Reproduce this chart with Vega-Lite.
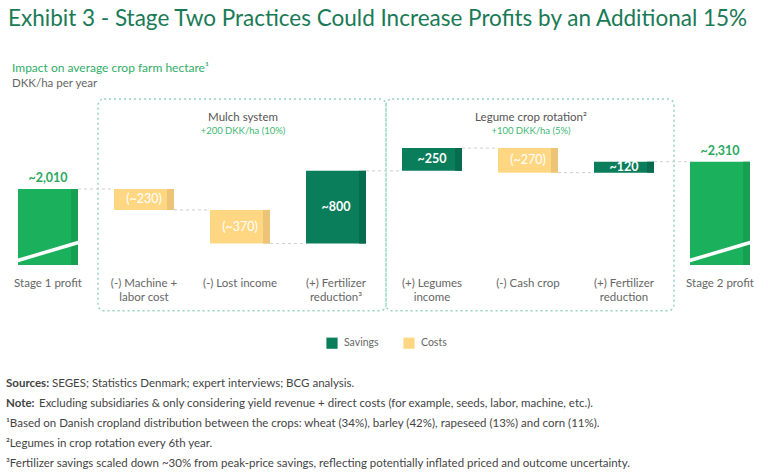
{
  "$schema": "https://vega.github.io/schema/vega-lite/v6.json",
  "background": "white",
  "padding": {"left": 0, "top": 8, "right": 0, "bottom": 0},
  "config": {"view": {"stroke": null}, "font": "Lato", "concat": {"spacing": 62}},
  "title": {
    "text": "Exhibit 3 - Stage Two Practices Could Increase Profits by an Additional 15%",
    "font": "Lato", "fontSize": 22.5, "fontWeight": "normal", "color": "#197A56",
    "anchor": "start", "dx": 8, "offset": 31
  },
  "datasets": {
    "steps": [
      {"step": "Stage 1 profit", "kind": "Total", "start": 0, "end": 2010, "label": "~2,010", "next": "(-) Machine +\nlabor cost"},
      {"step": "(-) Machine +\nlabor cost", "kind": "Costs", "start": 2010, "end": 1780, "label": "(~230)", "next": "(-) Lost income"},
      {"step": "(-) Lost income", "kind": "Costs", "start": 1780, "end": 1410, "label": "(~370)", "next": "(+) Fertilizer\nreduction³"},
      {"step": "(+) Fertilizer\nreduction³", "kind": "Savings", "start": 1410, "end": 2210, "label": "~800", "next": "(+) Legumes\nincome"},
      {"step": "(+) Legumes\nincome", "kind": "Savings", "start": 2210, "end": 2460, "label": "~250", "next": "(-) Cash crop"},
      {"step": "(-) Cash crop", "kind": "Costs", "start": 2460, "end": 2190, "label": "(~270)", "next": "(+) Fertilizer\nreduction"},
      {"step": "(+) Fertilizer\nreduction", "kind": "Savings", "start": 2190, "end": 2310, "label": "~120", "next": "Stage 2 profit"},
      {"step": "Stage 2 profit", "kind": "Total", "start": 0, "end": 2310, "label": "~2,310", "next": null}
    ],
    "groups": [
      {"group": "Mulch system", "sub": "+200 DKK/ha (10%)", "from": "(-) Machine +\nlabor cost", "mid": "(-) Lost income", "to": "(+) Fertilizer\nreduction³"},
      {"group": "Legume crop rotation²", "sub": "+100 DKK/ha (5%)", "from": "(+) Legumes\nincome", "mid": "(-) Cash crop", "to": "(+) Fertilizer\nreduction"}
    ],
    "notes": [
      {"line": 1, "lead": "Sources:", "text": "SEGES; Statistics Denmark; expert interviews; BCG analysis."},
      {"line": 2, "lead": "Note:", "text": "Excluding subsidiaries & only considering yield revenue + direct costs (for example, seeds, labor, machine, etc.)."},
      {"line": 3, "lead": "", "text": "¹Based on Danish cropland distribution between the crops: wheat (34%), barley (42%), rapeseed (13%) and corn (11%)."},
      {"line": 4, "lead": "", "text": "²Legumes in crop rotation every 6th year."},
      {"line": 5, "lead": "", "text": "³Fertilizer savings scaled down ~30% from peak-price savings, reflecting potentially inflated priced and outcome uncertainty."}
    ]
  },
  "vconcat": [
    {
      "width": 768,
      "height": 166,
      "title": {
        "text": "Impact on average crop farm hectare¹", "subtitle": "DKK/ha per year",
        "anchor": "start", "dx": 12, "font": "Lato", "fontSize": 12, "fontWeight": "normal", "color": "#2FAE66",
        "subtitleFont": "Lato", "subtitleFontSize": 11.5, "subtitleColor": "#666666", "subtitlePadding": 3, "offset": 8
      },
      "encoding": {
        "x": {
          "field": "step", "type": "nominal",
          "scale": {
            "domain": ["Stage 1 profit", "(-) Machine +\nlabor cost", "(-) Lost income", "(+) Fertilizer\nreduction³", "(+) Legumes\nincome", "(-) Cash crop", "(+) Fertilizer\nreduction", "Stage 2 profit"],
            "paddingInner": 0.375, "paddingOuter": 0.1875
          },
          "axis": {
            "title": null, "labelAngle": 0, "domain": false, "ticks": false, "labelPadding": 12,
            "labelFontSize": 11.5, "labelColor": "#666666", "labelFont": "Lato", "labelLineHeight": 14,
            "labelExpr": "split(datum.label, '\\n')"
          }
        }
      },
      "layer": [
        {
          "data": {"name": "groups"},
          "mark": {"type": "rect", "fill": null, "stroke": "#93D4BF", "strokeWidth": 1.5, "strokeDash": [2, 3], "cornerRadius": 6, "xOffset": -46, "x2Offset": 50},
          "encoding": {
            "x": {"field": "from", "type": "nominal"},
            "x2": {"field": "to"},
            "y": {"datum": 670, "type": "quantitative", "scale": {"domain": [1174, 3000], "nice": false, "zero": false}, "axis": null},
            "y2": {"datum": 3000}
          }
        },
        {
          "data": {"name": "groups"},
          "mark": {"type": "text", "fontSize": 11.5, "color": "#555555", "dy": 19, "dx": 3, "baseline": "middle"},
          "encoding": {
            "x": {"field": "mid", "type": "nominal"},
            "y": {"datum": 3000, "type": "quantitative"},
            "text": {"field": "group"}
          }
        },
        {
          "data": {"name": "groups"},
          "mark": {"type": "text", "fontSize": 9.5, "color": "#3DB873", "dy": 32, "dx": 3, "baseline": "middle"},
          "encoding": {
            "x": {"field": "mid", "type": "nominal"},
            "y": {"datum": 3000, "type": "quantitative"},
            "text": {"field": "sub"}
          }
        },
        {
          "data": {"name": "steps"},
          "transform": [{"filter": "datum.next != null"}],
          "mark": {"type": "rule", "stroke": "#CFCFCF", "strokeWidth": 1, "strokeDash": [3, 3], "xOffset": 30, "x2Offset": -30},
          "encoding": {
            "x": {"field": "step", "type": "nominal"},
            "x2": {"field": "next"},
            "y": {"field": "end", "type": "quantitative"}
          }
        },
        {
          "data": {"name": "steps"},
          "transform": [{"filter": "datum.kind === 'Total'"}],
          "mark": {"type": "bar", "clip": true, "color": "#1BB05C"},
          "encoding": {
            "y": {"field": "start", "type": "quantitative"},
            "y2": {"field": "end"}
          }
        },
        {
          "data": {"name": "steps"},
          "transform": [{"filter": "datum.kind === 'Total'"}],
          "mark": {"type": "bar", "clip": true, "color": "#17A052", "width": 7, "xOffset": 26.5},
          "encoding": {
            "y": {"field": "start", "type": "quantitative"},
            "y2": {"field": "end"}
          }
        },
        {
          "data": {"name": "steps"},
          "transform": [{"filter": "datum.kind !== 'Total'"}],
          "mark": {"type": "bar"},
          "encoding": {
            "y": {"field": "start", "type": "quantitative"},
            "y2": {"field": "end"},
            "color": {
              "field": "kind", "type": "nominal",
              "scale": {"domain": ["Savings", "Costs"], "range": ["#0A7D5A", "#FFD782"]},
              "legend": {
                "title": null, "orient": "none", "legendX": 326, "legendY": 238, "direction": "horizontal",
                "symbolType": "square", "symbolSize": 125, "symbolStrokeWidth": 0, "labelFontSize": 10.5, "labelColor": "#666666",
                "labelFont": "Lato", "columnPadding": 24, "labelOffset": 6
              }
            }
          }
        },
        {
          "data": {"name": "steps"},
          "transform": [{"filter": "datum.kind !== 'Total'"}],
          "mark": {"type": "bar", "width": 7, "xOffset": 26.5},
          "encoding": {
            "y": {"field": "start", "type": "quantitative"},
            "y2": {"field": "end"},
            "color": {"condition": {"test": "datum.kind === 'Savings'", "value": "#076C4D"}, "value": "#EBC478"}
          }
        },
        {
          "data": {"name": "steps"},
          "transform": [{"filter": "datum.kind === 'Total'"}],
          "mark": {"type": "rule", "stroke": "white", "strokeWidth": 3.5, "xOffset": -32, "x2Offset": 32},
          "encoding": {
            "x2": {"field": "step"},
            "y": {"datum": 1218, "type": "quantitative"},
            "y2": {"datum": 1427}
          }
        },
        {
          "data": {"name": "steps"},
          "transform": [{"filter": "datum.kind === 'Total'"}],
          "mark": {"type": "text", "fontSize": 12.5, "fontWeight": "bold", "color": "#2AA85F", "dy": -11, "baseline": "middle"},
          "encoding": {
            "y": {"field": "end", "type": "quantitative"},
            "text": {"field": "label"}
          }
        },
        {
          "data": {"name": "steps"},
          "transform": [{"filter": "datum.kind === 'Savings'"}, {"calculate": "(datum.start + datum.end) / 2", "as": "mid"}],
          "mark": {"type": "text", "fontSize": 12.5, "fontWeight": "bold", "color": "white", "baseline": "middle"},
          "encoding": {
            "y": {"field": "mid", "type": "quantitative"},
            "text": {"field": "label"}
          }
        },
        {
          "data": {"name": "steps"},
          "transform": [{"filter": "datum.kind === 'Costs'"}, {"calculate": "(datum.start + datum.end) / 2", "as": "mid"}],
          "mark": {"type": "text", "fontSize": 12.5, "fontWeight": "normal", "color": "white", "baseline": "middle"},
          "encoding": {
            "y": {"field": "mid", "type": "quantitative"},
            "text": {"field": "label"}
          }
        }
      ]
    },
    {
      "width": 768,
      "height": 100,
      "data": {"name": "notes"},
      "encoding": {
        "y": {"field": "line", "type": "ordinal", "axis": null, "scale": {"paddingInner": 0, "paddingOuter": 0}},
        "x": {"value": 0}
      },
      "layer": [
        {
          "transform": [{"filter": "datum.lead !== ''"}],
          "mark": {"type": "text", "align": "left", "baseline": "middle", "dx": 6, "fontSize": 11.5, "fontWeight": "bold", "color": "#444444"},
          "encoding": {"text": {"field": "lead"}}
        },
        {
          "transform": [{"filter": "datum.lead === 'Sources:'"}],
          "mark": {"type": "text", "align": "left", "baseline": "middle", "dx": 52, "fontSize": 11.5, "color": "#444444"},
          "encoding": {"text": {"field": "text"}}
        },
        {
          "transform": [{"filter": "datum.lead === 'Note:'"}],
          "mark": {"type": "text", "align": "left", "baseline": "middle", "dx": 39, "fontSize": 11.5, "color": "#444444"},
          "encoding": {"text": {"field": "text"}}
        },
        {
          "transform": [{"filter": "datum.lead === ''"}],
          "mark": {"type": "text", "align": "left", "baseline": "middle", "dx": 6, "fontSize": 11.5, "color": "#444444"},
          "encoding": {"text": {"field": "text"}}
        }
      ]
    }
  ]
}
